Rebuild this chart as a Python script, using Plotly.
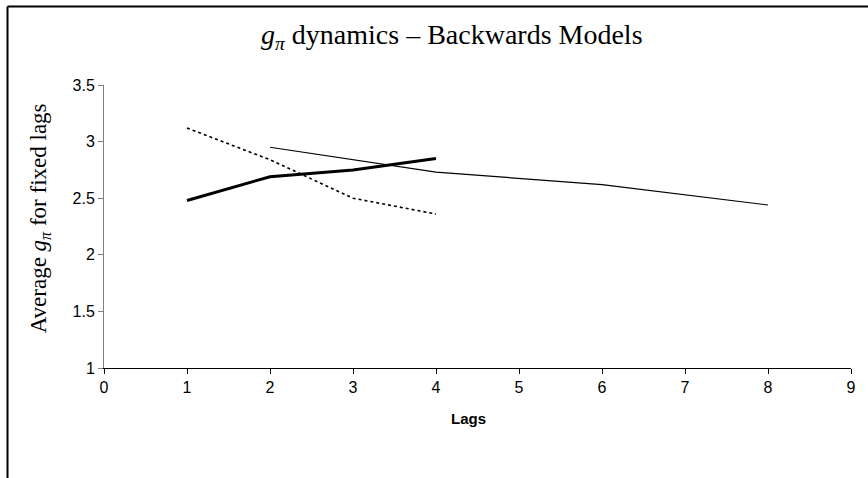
import plotly.graph_objects as go

# Average g_pi by number of lags for three backwards-looking model specs
lags_a = [2, 4, 6, 8]
gpi_a = [2.95, 2.73, 2.62, 2.44]

lags_b = [1, 2, 3, 4]
gpi_b = [2.48, 2.69, 2.75, 2.85]

lags_c = [1, 2, 3, 4]
gpi_c = [3.12, 2.84, 2.50, 2.36]

x_ticks = list(range(0, 10))
y_ticks = [1, 1.5, 2, 2.5, 3, 3.5]
y_tick_text = ["1", "1.5", "2", "2.5", "3", "3.5"]

W, H = 868, 478
L, R, T, B = 104, 13, 85, 110
pw, ph = W - L - R, H - T - B


def px(x):
    return (x - L) / pw


def py(y):
    return (H - B - y) / ph


fig = go.Figure()
fig.add_trace(go.Scatter(x=lags_a, y=gpi_a, mode="lines",
                         line=dict(color="black", width=1.2)))
fig.add_trace(go.Scatter(x=lags_b, y=gpi_b, mode="lines",
                         line=dict(color="black", width=3)))
fig.add_trace(go.Scatter(x=lags_c, y=gpi_c, mode="lines",
                         line=dict(color="black", width=1.6, dash="3px,3px")))

tick_font = dict(family="Liberation Sans Narrow, Liberation Sans, Arial",
                 size=16, color="black")

fig.update_layout(
    width=W, height=H,
    margin=dict(l=L, r=R, t=T, b=B),
    paper_bgcolor="white", plot_bgcolor="white",
    showlegend=False,
    xaxis=dict(range=[0, 9], tickvals=x_ticks, showgrid=False, zeroline=False,
               showline=True, linecolor="black", linewidth=1.2,
               ticks="outside", ticklen=5, tickcolor="black", tickwidth=1,
               tickfont=tick_font),
    yaxis=dict(range=[1, 3.5], tickvals=y_ticks, ticktext=y_tick_text,
               showgrid=False, zeroline=False,
               showline=True, linecolor="#808080", linewidth=1,
               ticks="outside", ticklen=5, tickcolor="#808080", tickwidth=1,
               tickfont=tick_font),
    shapes=[
        dict(type="line", xref="paper", yref="paper",
             x0=px(7), x1=px(W + 20), y0=py(6.5), y1=py(6.5),
             line=dict(color="black", width=2)),
        dict(type="line", xref="paper", yref="paper",
             x0=px(7), x1=px(7), y0=py(6.5), y1=py(H + 20),
             line=dict(color="black", width=2)),
    ],
    annotations=[
        dict(text="<i>g</i><sub><i>π</i></sub> dynamics – Backwards Models",
             xref="paper", yref="paper", x=px(454), y=py(36),
             xanchor="center", yanchor="middle", showarrow=False,
             font=dict(family="Liberation Serif, Times New Roman", size=28,
                       color="black")),
        dict(text="Average <i>g</i><sub><i>π</i></sub> for fixed lags",
             xref="paper", yref="paper", x=px(40), y=py(218),
             xanchor="center", yanchor="middle", showarrow=False, textangle=-90,
             font=dict(family="Liberation Serif, Times New Roman", size=23,
                       color="black")),
        dict(text="<b>Lags</b>", xref="paper", yref="paper",
             x=px(470), y=py(418), xanchor="center", yanchor="middle",
             showarrow=False,
             font=dict(family="Liberation Sans Narrow, Liberation Sans, Arial",
                       size=15, color="black")),
    ],
)

fig.write_html("out.html")
